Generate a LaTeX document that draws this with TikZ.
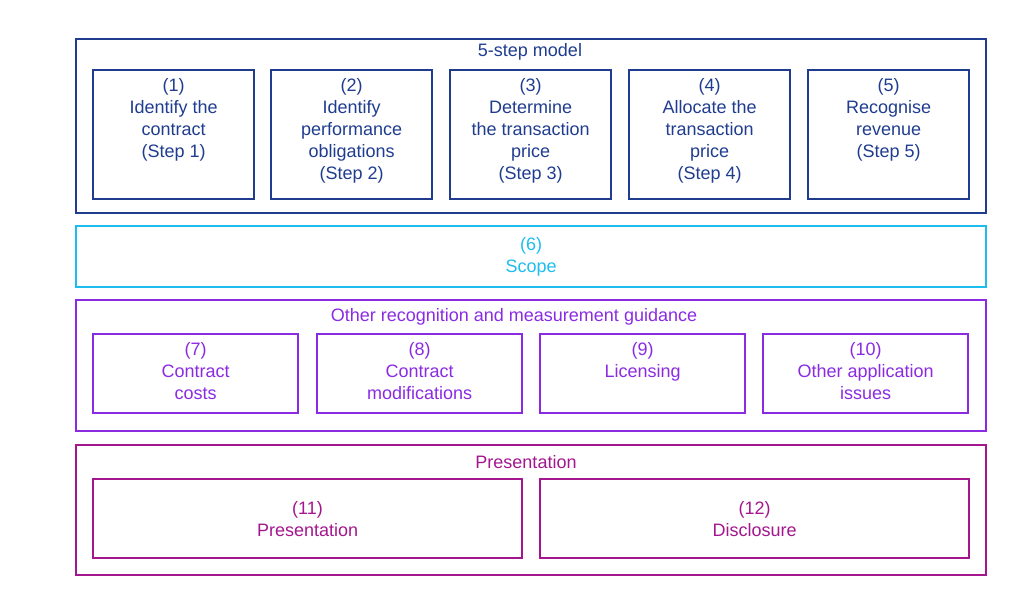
\documentclass[tikz,border=0pt]{standalone}
\usepackage{fontspec}
\setmainfont{Liberation Sans}
\usetikzlibrary{positioning}
\definecolor{stepblue}{HTML}{1F3C8F}
\definecolor{scopecyan}{HTML}{1EBDF0}
\definecolor{guidepurple}{HTML}{8A2BE2}
\definecolor{presmagenta}{HTML}{A3168E}
\tikzset{
  frame/.style={draw=#1, line width=1.6pt, inner sep=0pt, anchor=north west},
  label/.style={text=#1, align=center, inner sep=0pt, font=\fontsize{13.5}{16.5}\selectfont},
  toptext/.style={label=#1, anchor=north, below=8pt},
  heading/.style={text=#1, font=\fontsize{13.5}{16.5}\selectfont, anchor=center}
}
\begin{document}
\begin{tikzpicture}[x=0.75pt, y=-0.75pt]
  \useasboundingbox (0,0) rectangle (1024,598);
  % 5-step model
  \node[frame=stepblue, minimum width=910*0.75pt, minimum height=174*0.75pt] (model) at (75,38) {};
  \node[heading=stepblue] (modeltitle) at (530,52) {5-step model};
  \foreach \i/\x/\txt in {1/92/{(1)\\Identify the\\contract\\ (Step 1)},
                          2/270/{(2)\\Identify\\performance\\obligations\\ (Step 2)},
                          3/449/{(3)\\Determine\\the transaction\\price\\ (Step 3)},
                          4/628/{(4)\\Allocate the\\transaction\\price\\ (Step 4)},
                          5/807/{(5)\\Recognise\\revenue\\ (Step 5)}} {
    \node[frame=stepblue, minimum width=161*0.75pt, minimum height=129*0.75pt] (s\i) at (\x,69) {};
    \node[label=stepblue, anchor=north] (s\i text) at ([yshift=-7pt]s\i.north) {\txt};
  }
  % scope
  \node[frame=scopecyan, minimum width=910*0.75pt, minimum height=61*0.75pt] (scope) at (75,225) {};
  \node[label=scopecyan] (scopetext) at (scope.center) {(6)\\Scope};
  % other guidance
  \node[frame=guidepurple, minimum width=910*0.75pt, minimum height=131*0.75pt] (other) at (75,299) {};
  \node[heading=guidepurple] (othertitle) at (514,317) {Other recognition and measurement guidance};
  \foreach \i/\x/\txt in {7/92/{(7)\\Contract\\costs},
                          8/316/{(8)\\Contract\\modifications},
                          9/539/{(9)\\Licensing},
                          10/762/{(10)\\Other application\\issues}} {
    \node[frame=guidepurple, minimum width=205*0.75pt, minimum height=79*0.75pt] (g\i) at (\x,333) {};
    \node[label=guidepurple, anchor=north] (g\i text) at ([yshift=-7pt]g\i.north) {\txt};
  }
  % presentation
  \node[frame=presmagenta, minimum width=910*0.75pt, minimum height=130*0.75pt] (pres) at (75,444) {};
  \node[heading=presmagenta] (prestitle) at (526,462) {Presentation};
  \node[frame=presmagenta, minimum width=429*0.75pt, minimum height=79*0.75pt] (p11) at (92,478) {};
  \node[label=presmagenta] (p11text) at (p11.center) {(11)\\Presentation};
  \node[frame=presmagenta, minimum width=429*0.75pt, minimum height=79*0.75pt] (p12) at (539,478) {};
  \node[label=presmagenta] (p12text) at (p12.center) {(12)\\Disclosure};
\end{tikzpicture}
\end{document}
